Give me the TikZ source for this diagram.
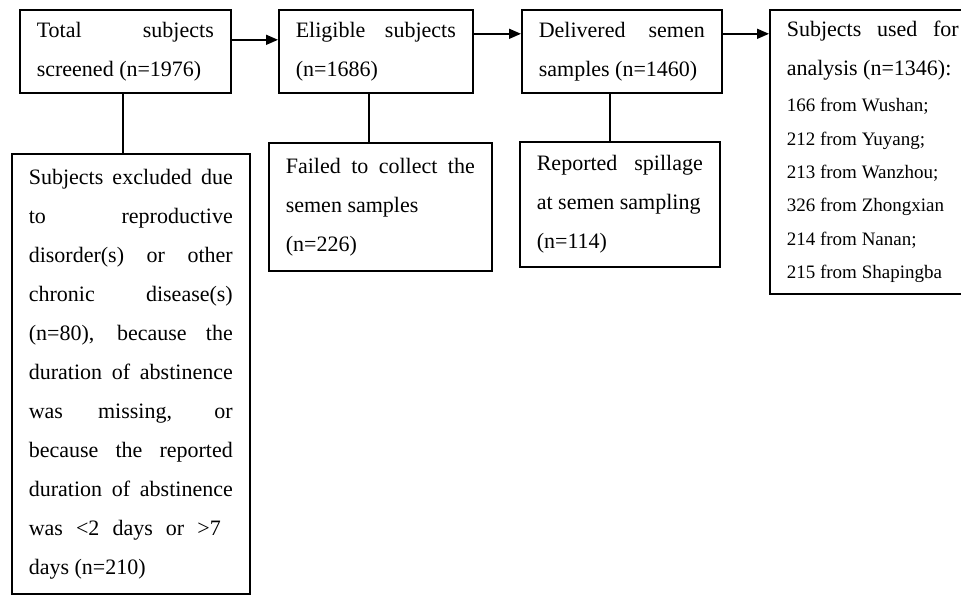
\documentclass[tikz,border=0pt]{standalone}
\usepackage{fontspec}
\setmainfont{Liberation Serif}
\usetikzlibrary{arrows.meta}
\hyphenpenalty=10000
\tolerance=10000
\tikzset{blk/.style={draw,line width=0.8pt,anchor=north west,align=justify,inner xsep=8.5pt,inner ysep=0pt,
  font=\fontsize{11}{19.5}\selectfont,text width=#1}}
\newcommand{\lst}{\fontsize{9.5}{16.65}\selectfont}

\begin{document}
\begin{tikzpicture}[x=0.5pt,y=-0.5pt,>={Triangle[length=6pt,width=5pt]},line width=0.8pt]
    \useasboundingbox (0,0) rectangle (961,596);
    \node[blk=88.5pt,minimum height=41.5pt] (tot) at (19,9) {Total subjects\linebreak screened (n=1976)};
    \node[blk=80pt,minimum height=41.5pt] (elig) at (278,9) {Eligible subjects\linebreak (n=1686)};
    \node[blk=83pt,minimum height=41.5pt] (deliv) at (521,9) {Delivered semen\linebreak samples (n=1460)};
    \node[blk=86pt,minimum height=142pt] (used) at (769,9) {Subjects used for\linebreak analysis (n=1346):\par\vspace{1.5pt}
        {\lst 166 from Wushan;\\ 212 from Yuyang;\\ 213 from Wanzhou;\\ 326 from Zhongxian\\ 214 from Nanan;\\ 215 from Shapingba\par}};
    \node[blk=102pt,minimum height=220pt] (excl) at (11,153) {Subjects excluded due\linebreak to reproductive\linebreak
        disorder(s) or other\linebreak chronic disease(s)\linebreak (n=80), because the\linebreak
        duration of abstinence\linebreak was missing, or\linebreak because the reported\linebreak
        duration of abstinence\linebreak was <2 days or >7\hspace*{6pt}\linebreak days (n=210)};
    \node[blk=94.5pt,minimum height=64pt] (fail) at (268,142) {Failed to collect the\linebreak semen samples\\ (n=226)};
    \node[blk=83pt,minimum height=62.5pt] (spill) at (519,141) {Reported spillage\linebreak at semen sampling\\ (n=114)};

    % flow
    \draw[->] ([yshift=5.75pt]tot.east) -- ([yshift=5.75pt]elig.west);
    \draw[->] ([yshift=8.75pt]elig.east) -- ([yshift=8.75pt]deliv.west);
    \draw[->] ([yshift=8.75pt]deliv.east) -- ([yshift=8.75pt]deliv.east -| used.west);

    % exclusions
    \draw ([xshift=-1.25pt]tot.south) -- ([xshift=-1.25pt]tot.south |- excl.north);
    \draw ([xshift=-3.5pt]elig.south) -- ([xshift=-3.5pt]elig.south |- fail.north);
    \draw ([xshift=-6pt]deliv.south) -- ([xshift=-6pt]deliv.south |- spill.north);
\end{tikzpicture}
\end{document}
